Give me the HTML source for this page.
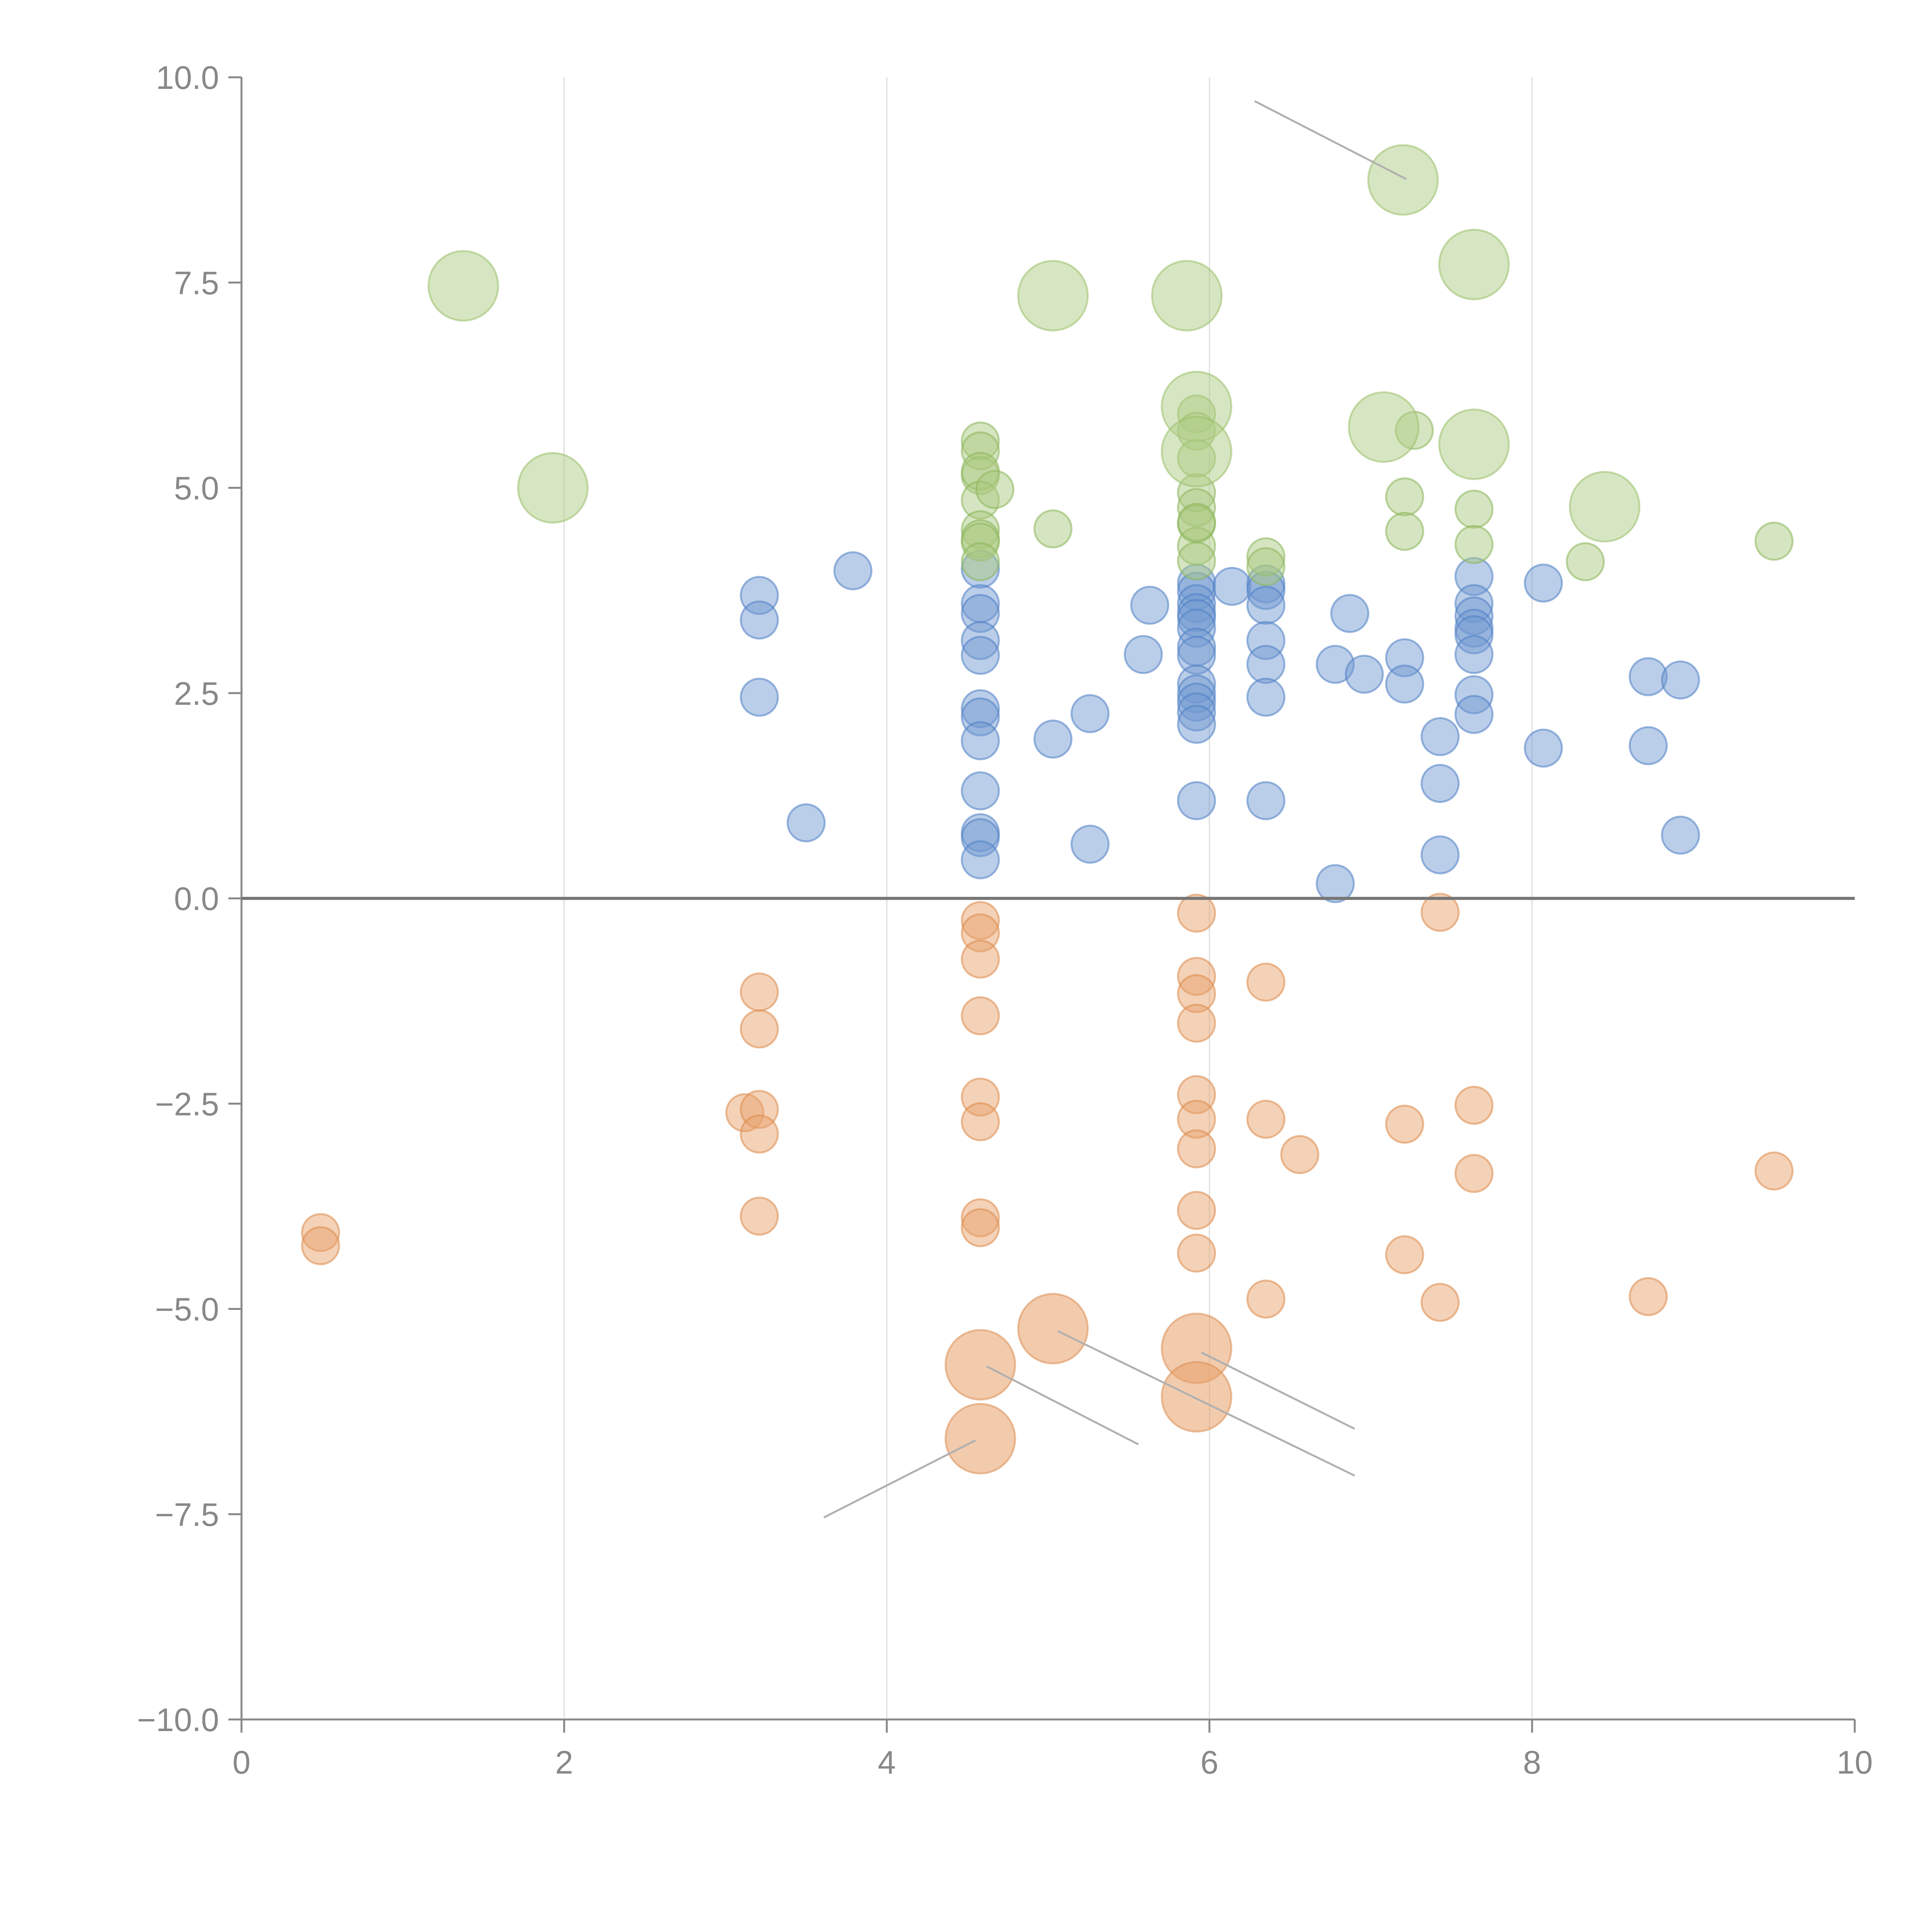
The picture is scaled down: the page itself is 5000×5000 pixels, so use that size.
<!DOCTYPE html>
<html><head><meta charset="utf-8"><style>html,body{margin:0;padding:0;background:#fff}svg{display:block}</style></head>
<body>
<svg id="chart" width="5000" height="5000" viewBox="0 0 5000 5000" xmlns="http://www.w3.org/2000/svg"></svg>
<script>
const xTicks=[0,2,4,6,8,10];
const xTickLabels=["0","2","4","6","8","10"];
const yTicks=[-10,-7.5,-5,-2.5,0,2.5,5,7.5,10];
const yTickLabels=["\u221210.0","\u22127.5","\u22125.0","\u22122.5","0.0","2.5","5.0","7.5","10.0"];
const greenBigX=[1.375,1.93,5.03,5.86,5.92,5.92,7.2,7.64,7.08,7.64,8.45];
const greenBigY=[7.46,5.0,7.34,7.34,5.99,5.44,8.75,7.72,5.74,5.53,4.77];
const greenX=[4.58,4.58,4.58,4.58,4.58,4.58,4.58,4.58,4.58,4.67,5.03,5.92,5.92,5.92,5.92,5.92,5.92,5.92,5.92,5.92,6.35,6.35,7.27,7.21,7.21,7.64,7.64,8.33,9.5];
const greenY=[5.57,5.45,5.15,5.2,4.85,4.49,4.38,4.34,4.1,4.98,4.5,5.9,5.69,5.36,4.94,4.76,4.56,4.29,4.11,4.58,4.16,4.04,5.7,4.89,4.47,4.74,4.31,4.1,4.35];
const blueX=[3.21,3.21,3.21,3.5,3.79,4.58,4.58,4.58,4.58,4.58,4.58,4.58,4.58,4.58,4.58,4.58,4.58,5.03,5.26,5.26,5.59,5.63,5.92,5.92,5.92,5.92,5.92,5.92,5.92,5.92,5.92,5.92,5.92,5.92,5.92,5.92,6.14,6.35,6.35,6.35,6.35,6.35,6.35,6.35,6.78,6.78,6.87,6.96,7.21,7.21,7.43,7.43,7.43,7.64,7.64,7.64,7.64,7.64,7.64,7.64,7.64,8.07,8.07,8.72,8.72,8.92,8.92];
const blueY=[3.69,3.39,2.45,0.92,3.99,4.01,3.59,3.47,3.14,2.96,2.31,2.21,1.92,1.31,0.8,0.74,0.47,1.94,2.25,0.66,2.97,3.57,3.84,3.74,3.59,3.48,3.41,3.29,3.06,2.96,2.61,2.49,2.39,2.27,2.12,1.19,3.8,3.83,3.75,3.57,3.14,2.85,2.45,1.19,2.85,0.18,3.47,2.73,2.93,2.61,1.97,1.4,0.53,3.92,3.59,3.44,3.29,3.21,2.97,2.48,2.24,3.84,1.83,2.7,1.86,2.66,0.77];
const orangeX=[0.49,0.49,3.12,3.21,3.21,3.21,3.21,3.21,4.58,4.58,4.58,4.58,4.58,4.58,4.58,4.58,5.92,5.92,5.92,5.92,5.92,5.92,5.92,5.92,5.92,6.35,6.35,6.35,6.56,7.21,7.21,7.43,7.43,7.64,7.64,8.72,9.5];
const orangeY=[-4.07,-4.23,-2.61,-1.14,-1.59,-2.57,-2.87,-3.87,-0.27,-0.42,-0.74,-1.43,-2.42,-2.72,-3.89,-4.01,-0.18,-0.95,-1.16,-1.52,-2.39,-2.69,-3.05,-3.8,-4.32,-1.02,-2.69,-4.88,-3.12,-2.75,-4.34,-0.17,-4.92,-2.52,-3.35,-4.85,-3.32];
const orangeBigX=[4.58,5.03,5.92,5.92,4.58];
const orangeBigY=[-5.68,-5.24,-5.48,-6.07,-6.58];
const leaderX1=[6.28,4.62,5.06,5.95,4.55];
const leaderY1=[9.71,-5.70,-5.27,-5.53,-6.60];
const leaderX2=[7.22,5.56,6.90,6.90,3.61];
const leaderY2=[8.76,-6.65,-7.03,-6.46,-7.54];

const L=625,R=4800,T=200,B=4450;
const sx=v=>L+(v-0)/(10-0)*(R-L);
const sy=v=>B-(v+10)/20*(B-T);
const svg=document.getElementById('chart');
const NS='http://www.w3.org/2000/svg';
function mk(tag,attrs,parent){const e=document.createElementNS(NS,tag);for(const k in attrs)e.setAttribute(k,attrs[k]);(parent||svg).appendChild(e);return e;}

const grid=mk('g',{});


xTicks.forEach(t=>{if(t>0&&t<10){const l=mk('line',{x1:sx(t),x2:sx(t),y1:T,y2:B,stroke:'#dddddd','stroke-width':3},grid);

}});

function series(xs,ys,r,fill,stroke,op,name){
  const g=mk('g',{});
  
  
  xs.forEach((x,i)=>{const c=mk('circle',{cx:sx(x),cy:sy(ys[i]),r:r,fill:fill,'fill-opacity':op,stroke:stroke,'stroke-opacity':0.55,'stroke-width':5},g);
  
  });
}
series(blueX,blueY,48,'#7198d0','#4f7fc4',0.48,'blue-series');
series(greenX,greenY,48,'#a9c97e','#8ab55a',0.48,'green-series');
series(greenBigX,greenBigY,90,'#b0cd86','#9bbf6c',0.5,'green-large-series');
series(orangeX,orangeY,48,'#e8a06a','#dc8a4a',0.48,'orange-series');
series(orangeBigX,orangeBigY,90,'#e8a06a','#dc8f55',0.55,'orange-large-series');

const lg=mk('g',{});


leaderX1.forEach((x,i)=>{const l=mk('line',{x1:sx(x),y1:sy(leaderY1[i]),x2:sx(leaderX2[i]),y2:sy(leaderY2[i]),stroke:'#b0b0b0','stroke-width':5},lg);

});

const ax=mk('g',{});


const yl=mk('line',{x1:L,x2:L,y1:T,y2:B,stroke:'#888','stroke-width':5},ax);


const xl=mk('line',{x1:L,x2:R,y1:B,y2:B,stroke:'#888','stroke-width':5},ax);


const zl=mk('line',{x1:L,x2:R,y1:sy(0),y2:sy(0),stroke:'#777','stroke-width':8},ax);


xTicks.forEach((t,i)=>{
  const tk=mk('line',{x1:sx(t),x2:sx(t),y1:B,y2:B+34,stroke:'#888','stroke-width':5},ax);
  
  
  const tx=mk('text',{x:sx(t),y:B+140,'text-anchor':'middle','font-size':84,fill:'#888','font-family':'Liberation Sans, Arial, sans-serif'},ax);
  tx.textContent=xTickLabels[i];
  
  
});
yTicks.forEach((t,i)=>{
  const tk=mk('line',{x1:L-34,x2:L,y1:sy(t),y2:sy(t),stroke:'#888','stroke-width':5},ax);
  
  
  const tx=mk('text',{x:L-58,y:sy(t)+30,'text-anchor':'end','font-size':84,fill:'#888','font-family':'Liberation Sans, Arial, sans-serif'},ax);
  tx.textContent=yTickLabels[i];
  
  
});
</script>
</body></html>
